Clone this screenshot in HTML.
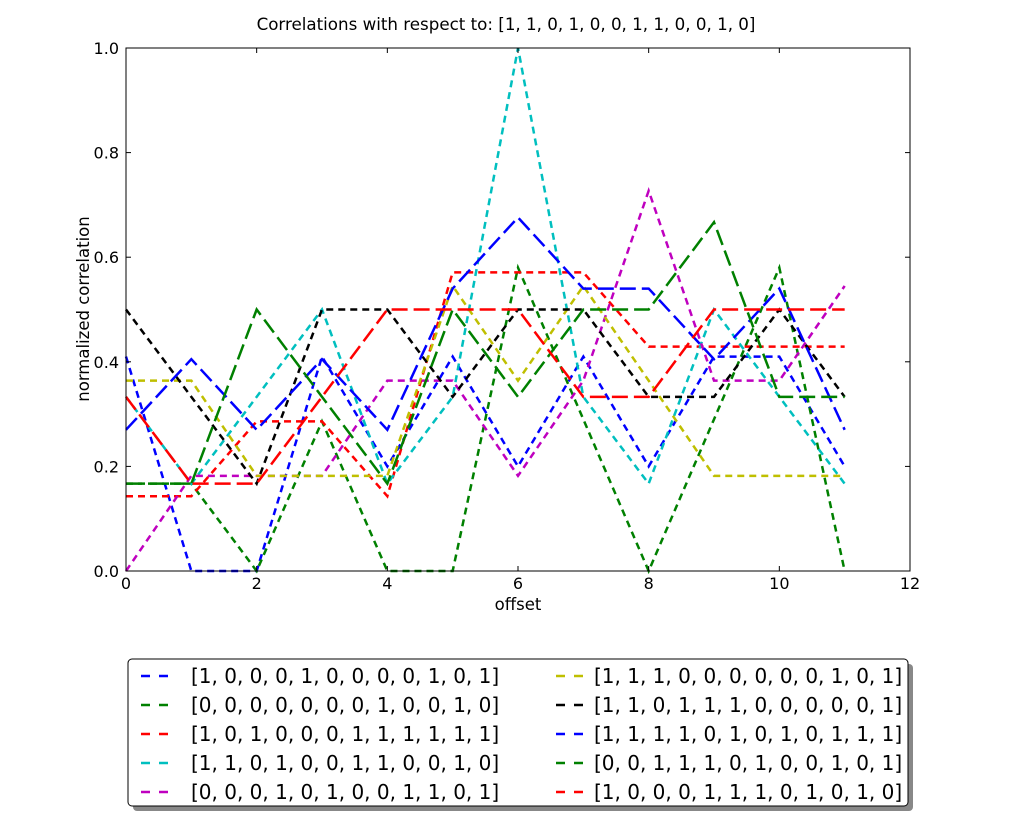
<!DOCTYPE html>
<html><head><meta charset="utf-8">
<style>
body{margin:0;background:#fff;}
svg{display:block;font-family:"DejaVu Sans","Liberation Sans",sans-serif;}
</style></head>
<body>
<svg id="chart" width="1012" height="816" viewBox="0 0 1012 816" xmlns="http://www.w3.org/2000/svg">
<rect width="1012" height="816" fill="#fff"/>
<text x="506" y="30" font-size="16.7" text-anchor="middle">Correlations with respect to: [1, 1, 0, 1, 0, 0, 1, 1, 0, 0, 1, 0]</text>
<g id="lines"></g>
<rect x="126" y="48" width="784" height="523" fill="none" stroke="#000" stroke-width="1"/>
<g id="axes"></g>
<text x="518" y="610" font-size="16.5" text-anchor="middle">offset</text>
<text x="0" y="0" font-size="16.5" text-anchor="middle" transform="translate(89,309) rotate(-90)">normalized correlation</text>
<g id="legend">
<rect x="133" y="664" width="780" height="147" rx="4" fill="#888"/>
<rect x="128" y="659" width="780" height="147" rx="4" fill="#fff" stroke="#000" stroke-width="1"/>
</g>
</svg>
<script>
const offsets=[0,1,2,3,4,5,6,7,8,9,10,11];
const labels=["[1, 0, 0, 0, 1, 0, 0, 0, 0, 1, 0, 1]","[0, 0, 0, 0, 0, 0, 0, 1, 0, 0, 1, 0]","[1, 0, 1, 0, 0, 0, 1, 1, 1, 1, 1, 1]","[1, 1, 0, 1, 0, 0, 1, 1, 0, 0, 1, 0]","[0, 0, 0, 1, 0, 1, 0, 0, 1, 1, 0, 1]","[1, 1, 1, 0, 0, 0, 0, 0, 0, 1, 0, 1]","[1, 1, 0, 1, 1, 1, 0, 0, 0, 0, 0, 1]","[1, 1, 1, 1, 0, 1, 0, 1, 0, 1, 1, 1]","[0, 0, 1, 1, 1, 0, 1, 0, 0, 1, 0, 1]","[1, 0, 0, 0, 1, 1, 1, 0, 1, 0, 1, 0]"];
const s1=[0.41,0,0,0.41,0.2,0.41,0.2,0.41,0.2,0.41,0.41,0.2];
const s2=[0.167,0.167,0,0.286,0,0,0.58,0.29,0,0.29,0.58,0];
const s3=[0.143,0.143,0.286,0.286,0.143,0.571,0.571,0.571,0.429,0.429,0.429,0.429];
const s4=[0.333,0.167,0.333,0.5,0.167,0.333,1.0,0.333,0.167,0.5,0.333,0.167];
const s5=[0,0.182,0.182,0.182,0.364,0.364,0.182,0.364,0.727,0.364,0.364,0.545];
const s6=[0.364,0.364,0.182,0.182,0.182,0.545,0.364,0.545,0.364,0.182,0.182,0.182];
const s7=[0.5,0.333,0.167,0.5,0.5,0.333,0.5,0.5,0.333,0.333,0.5,0.333];
const s8=[0.27,0.405,0.27,0.405,0.27,0.54,0.676,0.54,0.54,0.405,0.54,0.27];
const s9=[0.167,0.167,0.5,0.333,0.167,0.5,0.333,0.5,0.5,0.667,0.333,0.333];
const s10=[0.333,0.167,0.167,0.333,0.5,0.5,0.5,0.333,0.333,0.5,0.5,0.5];
const xTicks=[0,2,4,6,8,10,12];
const yTicks=[0,0.2,0.4,0.6,0.8,1.0];
const yTickLabels=["0.0","0.2","0.4","0.6","0.8","1.0"];

const series=[s1,s2,s3,s4,s5,s6,s7,s8,s9,s10];
const colors=["#0000ff","#008000","#ff0000","#00bfbf","#bf00bf","#bfbf00","#000000","#0000ff","#008000","#ff0000"];
const NS="http://www.w3.org/2000/svg";
const X0=126,X1=910,Y0=571,Y1=48;
function sx(v){return X0+(v-0)/(12-0)*(X1-X0);}
function sy(v){return Y0-(v-0)/(1-0)*(Y0-Y1);}
const lines=document.getElementById('lines');
series.forEach((s,i)=>{
  const p=document.createElementNS(NS,'polyline');
  p.setAttribute('points',s.map((v,j)=>sx(offsets[j])+','+sy(v)).join(' '));
  p.setAttribute('fill','none');
  p.setAttribute('stroke',colors[i]);
  p.setAttribute('stroke-width','2.5');
  p.setAttribute('stroke-dasharray',i<7?'7,5':'16,6');
  
  
  lines.appendChild(p);
});
const axes=document.getElementById('axes');
xTicks.forEach(t=>{
  const x=sx(t);
  [[Y0,Y0-5],[Y1,Y1+5]].forEach(a=>{
    const l=document.createElementNS(NS,'line');
    l.setAttribute('x1',x);l.setAttribute('x2',x);l.setAttribute('y1',a[0]);l.setAttribute('y2',a[1]);
    l.setAttribute('stroke','#000');
    
    
    axes.appendChild(l);
  });
  const tx=document.createElementNS(NS,'text');
  tx.setAttribute('x',x);tx.setAttribute('y',Y0+18);tx.setAttribute('font-size','16');tx.setAttribute('text-anchor','middle');
  tx.textContent=t;
  
  
  axes.appendChild(tx);
});
yTicks.forEach((t,i)=>{
  const y=sy(t);
  [[X0,X0+5],[X1,X1-5]].forEach(a=>{
    const l=document.createElementNS(NS,'line');
    l.setAttribute('x1',a[0]);l.setAttribute('x2',a[1]);l.setAttribute('y1',y);l.setAttribute('y2',y);
    l.setAttribute('stroke','#000');
    
    
    axes.appendChild(l);
  });
  const tx=document.createElementNS(NS,'text');
  tx.setAttribute('x',X0-7);tx.setAttribute('y',y+6);tx.setAttribute('font-size','16');tx.setAttribute('text-anchor','end');
  tx.textContent=yTickLabels[i];
  
  
  axes.appendChild(tx);
});
const legend=document.getElementById('legend');
labels.forEach((lab,i)=>{
  const col=Math.floor(i/5),row=i%5;
  const hx=col?556:141, tx0=col?594:191, y=676+row*29;
  const l=document.createElementNS(NS,'line');
  l.setAttribute('x1',hx);l.setAttribute('x2',hx+27);l.setAttribute('y1',y);l.setAttribute('y2',y);
  l.setAttribute('stroke',colors[i]);l.setAttribute('stroke-width','2.5');l.setAttribute('stroke-dasharray','9,9');
  
  
  legend.appendChild(l);
  const t=document.createElementNS(NS,'text');
  t.setAttribute('x',tx0);t.setAttribute('y',y+7);t.setAttribute('font-size','20');
  t.textContent=lab;
  
  
  legend.appendChild(t);
});
</script>
</body></html>
